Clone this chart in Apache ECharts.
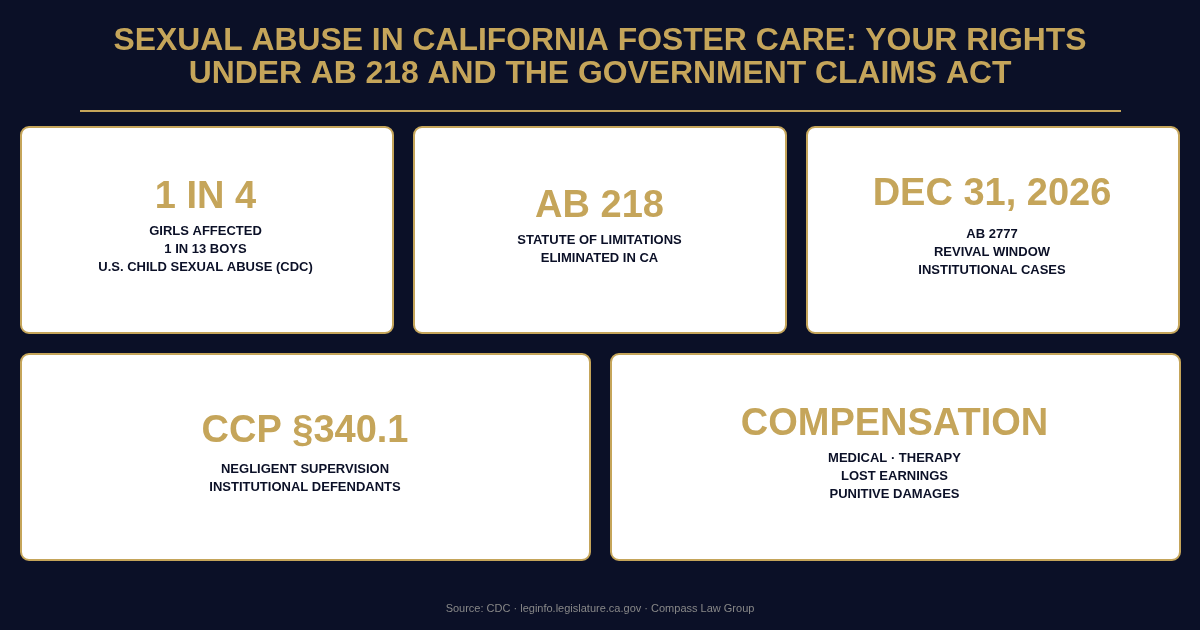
<!DOCTYPE html>
<html>
<head>
<meta charset="utf-8">
<style>html,body{margin:0;padding:0;background:#0b1027}#main{width:1200px;height:630px}</style>
<script src="https://cdn.jsdelivr.net/npm/echarts@6/dist/echarts.min.js"></script>
</head>
<body>
<div id="main"></div>
<script>
var titleLines = ['SEXUAL ABUSE IN CALIFORNIA FOSTER CARE: YOUR RIGHTS', 'UNDER AB 218 AND THE GOVERNMENT CLAIMS ACT'];
var statValues = ['1 IN 4', 'AB 218', 'DEC 31, 2026', 'CCP §340.1', 'COMPENSATION'];
var statLabels = [
    ['GIRLS AFFECTED', '1 IN 13 BOYS', 'U.S. CHILD SEXUAL ABUSE (CDC)'],
    ['STATUTE OF LIMITATIONS', 'ELIMINATED IN CA'],
    ['AB 2777', 'REVIVAL WINDOW', 'INSTITUTIONAL CASES'],
    ['NEGLIGENT SUPERVISION', 'INSTITUTIONAL DEFENDANTS'],
    ['MEDICAL · THERAPY', 'LOST EARNINGS', 'PUNITIVE DAMAGES']
];
var sourceText = 'Source: CDC · leginfo.legislature.ca.gov · Compass Law Group';

var NAVY = '#0b1027', GOLD = '#c5a55a', FONT = '"Liberation Sans", Arial, sans-serif';

// card boxes: x, y, w, h, center of text, middle y of the big value and first label line
var cards = [
    {x: 21, y: 127, w: 372, h: 206, cx: 205.5, vy: 198, ly: 231},
    {x: 414, y: 127, w: 372, h: 206, cx: 599.5, vy: 207, ly: 240},
    {x: 807, y: 127, w: 372, h: 206, cx: 992, vy: 195, ly: 234},
    {x: 21, y: 354, w: 569, h: 206, cx: 305, vy: 432, ly: 469},
    {x: 611, y: 354, w: 569, h: 206, cx: 894.5, vy: 425, ly: 458}
];

var elements = [];

titleLines.forEach(function (line, i) {
    elements.push({
        type: 'text', x: 600, y: 41 + i * 33,
        style: {text: line, fill: GOLD, font: 'bold 31.85px ' + FONT, align: 'center', verticalAlign: 'middle'}
    });
});

elements.push({type: 'rect', shape: {x: 80, y: 110, width: 1041, height: 2}, style: {fill: GOLD}});

cards.forEach(function (c, i) {
    elements.push({
        type: 'rect',
        shape: {x: c.x, y: c.y, width: c.w, height: c.h, r: 8},
        style: {fill: '#ffffff', stroke: GOLD, lineWidth: 2}
    });
    elements.push({
        type: 'text', x: c.cx, y: c.vy,
        style: {text: statValues[i], fill: GOLD, font: 'bold 38px ' + FONT, align: 'center', verticalAlign: 'middle'}
    });
    statLabels[i].forEach(function (line, j) {
        elements.push({
            type: 'text', x: c.cx, y: c.ly + j * 18,
            style: {text: line, fill: NAVY, font: 'bold 13px ' + FONT, align: 'center', verticalAlign: 'middle'}
        });
    });
});

elements.push({
    type: 'text', x: 600, y: 609,
    style: {text: sourceText, fill: '#888888', font: '11px ' + FONT, align: 'center', verticalAlign: 'middle'}
});

var myChart = echarts.init(document.getElementById('main'));
myChart.setOption({
    backgroundColor: NAVY,
    animation: false,
    graphic: {elements: elements}
});
</script>
</body>
</html>
